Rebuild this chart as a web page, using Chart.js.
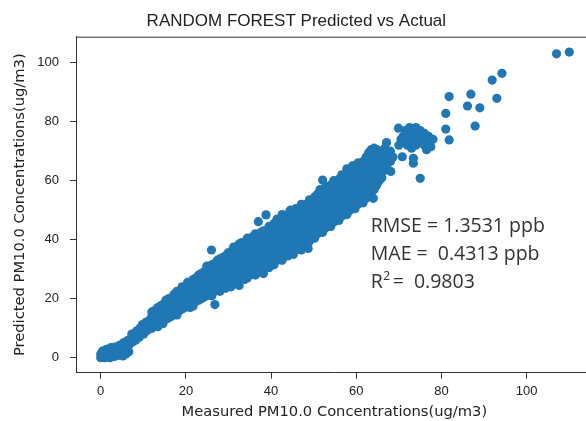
<!DOCTYPE html>
<html>
<head>
<meta charset="utf-8">
<script src="https://cdn.jsdelivr.net/npm/chart.js@4.4.1/dist/chart.umd.min.js"></script>
<style>
html, body { margin: 0; padding: 0; background: #fff; overflow: hidden; }
</style>
</head>
<body>
<canvas id="chart" width="600" height="421"></canvas>
<script>
// 文字
const titleText = 'RANDOM FOREST Predicted vs Actual';
const xLabel = 'Measured PM10.0 Concentrations(ug/m3)';
const yLabel = 'Predicted PM10.0 Concentrations(ug/m3)';
const xTicks = [0, 20, 40, 60, 80, 100];
const yTicks = [0, 20, 40, 60, 80, 100];
const rmseText = 'RMSE = 1.3531 ppb';
const maeText = 'MAE =  0.4313 ppb';
const r2Value = '=  0.9803';

// 数据点 [measured, predicted]
const lowRange = [
  [0,0],[0,1.2],[0.4,2.2],[0.6,0.4],[1,0],[1.1,1.4],[1.3,2.8],[1.7,0.6],[2,1.8],[2.2,0],[2.4,3.4],
  [2.6,1],[2.9,2.4],[3.2,0.4],[3.3,3.6],[3.6,1.4],[3.9,2.6],[4.2,0.8],[4.4,4.2],[4.6,2],[4.9,3.2],
  [5.2,0.6],[5.3,5],[5.6,2.2],[5.9,1.2],[6.1,3.4],[6.3,5.8],[6.6,2],[6.8,4.6],[7.1,6.6],[7.3,8],
  [7.6,5.4],[7.9,7.4],[8.2,6],[8.4,9],[8.7,7.8],[9,6.8],[9.2,10],[9.5,8.6],[9.8,11.2],[10.1,8],
  [10.3,9.8],[10.6,12],[10.9,9.2],[11.2,11],[11.5,12.8],[11.8,10]
];
const midLowRange = [
  [12,10],[12,12],[12,14],[12,15.5],[12.7,11],[12.7,13.5],[12.7,16],
  [13.4,10.5],[13.4,12.5],[13.4,14.5],[13.4,17],[14,12],[14,14],[14,16],[14,17.5],
  [14.6,11.5],[14.6,13.5],[14.6,15.5],[14.6,18],[15.3,13],[15.3,15],[15.3,17],[15.3,19.5],
  [16,13.5],[16,15.5],[16,17.5],[16,20],[16.6,14],[16.6,16],[16.6,18],[16.6,19.5],
  [17.2,15],[17.2,17],[17.2,19],[17.2,21.5],[17.9,14.5],[17.9,16.5],[17.9,18.5],[17.9,20.5],[17.9,22.5],
  [18.5,16],[18.5,18],[18.5,20],[18.5,22],[19.1,16.5],[19.1,18.5],[19.1,20.5],[19.1,22.5],[19.1,24],
  [19.8,17],[19.8,19],[19.8,21],[19.8,23],[20.4,18],[20.4,20],[20.4,22],[20.4,24],[20.4,25.5],
  [21,17],[21,19],[21,21],[21,23],[21,25],[21.7,17.5],[21.7,20],[21.7,22],[21.7,24],[21.7,26.5],
  [22.3,19],[22.3,21],[22.3,23],[22.3,25],[22.3,27],[23,19.5],[23,21.5],[23,23.5],[23,25.5],[23,28],
  [23.6,20],[23.6,22],[23.6,24],[23.6,26],[23.6,28.5],[24.2,20.5],[24.2,22.5],[24.2,24.5],[24.2,26.5],[24.2,29],
  [24.9,21],[24.9,23],[24.9,25],[24.9,27],[24.9,29.5],[24.9,31],[25.5,22],[25.5,24],[25.5,26],[25.5,28],[25.5,30],
  [26.1,21],[26.1,23],[26.1,25],[26.1,27],[26.1,29],[26.1,31.5],
  [26.8,18],[26.8,22.5],[26.8,24.5],[26.8,26.5],[26.8,28.5],[26.8,30.5],[26.8,32],
  [27.4,23],[27.4,25],[27.4,27],[27.4,29],[27.4,31],[27.4,33],
  [28,22.5],[28,24.5],[28,26.5],[28,28.5],[28,30.5],[28,33.5],
  [28.7,24],[28.7,26],[28.7,28],[28.7,30],[28.7,32],[28.7,34],
  [29.3,23.5],[29.3,25.5],[29.3,27.5],[29.3,29.5],[29.3,31.5],[29.3,34.5],
  [29.9,25],[29.9,27],[29.9,29],[29.9,31],[29.9,33],[29.9,35.5]
];
const midRange = [
  [30.6,24],[30.6,26],[30.6,28],[30.6,30],[30.6,32],[30.6,34],[30.6,36],
  [31.2,25.5],[31.2,27.5],[31.2,29.5],[31.2,31.5],[31.2,33.5],[31.2,35.5],[31.2,37.5],
  [31.9,26],[31.9,28],[31.9,30],[31.9,32],[31.9,34],[31.9,36],
  [32.5,24.5],[32.5,27],[32.5,29],[32.5,31],[32.5,33],[32.5,35],[32.5,37],[32.5,38.5],
  [33.1,27],[33.1,29],[33.1,31],[33.1,33],[33.1,35],[33.1,37],[33.1,39],
  [33.8,26.5],[33.8,28.5],[33.8,30.5],[33.8,32.5],[33.8,34.5],[33.8,36.5],[33.8,38.5],
  [34.4,27],[34.4,29],[34.4,31],[34.4,33],[34.4,35],[34.4,37],[34.4,39],[34.4,40.5],
  [35,28],[35,30],[35,32],[35,34],[35,36],[35,38],[35,40],
  [35.7,29.5],[35.7,31.5],[35.7,33.5],[35.7,35.5],[35.7,37.5],[35.7,39.5],[35.7,41],
  [36.3,28],[36.3,30],[36.3,32],[36.3,34],[36.3,36],[36.3,38],[36.3,40],[36.3,42],
  [37,29],[37,31],[37,33],[37,35],[37,37],[37,39],[37,41],[37,46.1],
  [37.6,30.5],[37.6,32.5],[37.6,34.5],[37.6,36.5],[37.6,38.5],[37.6,40.5],[37.6,42.5],
  [38.2,28.5],[38.2,31],[38.2,33],[38.2,35],[38.2,37],[38.2,39],[38.2,41],[38.2,43],
  [38.8,31],[38.8,33],[38.8,35],[38.8,37],[38.8,39],[38.8,41],[38.8,43],[38.8,48.4],
  [39.5,30.5],[39.5,32.5],[39.5,34.5],[39.5,36.5],[39.5,38.5],[39.5,40.5],[39.5,42.5],[39.5,44.5],
  [40.1,32],[40.1,34],[40.1,36],[40.1,38],[40.1,40],[40.1,42],[40.1,44],
  [40.7,31.5],[40.7,33.5],[40.7,35.5],[40.7,37.5],[40.7,39.5],[40.7,41.5],[40.7,43.5],[40.7,45.5],
  [41.4,33],[41.4,35],[41.4,37],[41.4,39],[41.4,41],[41.4,43],[41.4,45],[41.4,47],
  [42,34],[42,36],[42,38],[42,40],[42,42],[42,44],[42,46],
  [42.6,33],[42.6,35],[42.6,37],[42.6,39],[42.6,41],[42.6,43],[42.6,45],[42.6,47],[42.6,48.5],
  [43.3,35],[43.3,37],[43.3,39],[43.3,41],[43.3,43],[43.3,45],[43.3,47],
  [43.9,34.5],[43.9,36.5],[43.9,38.5],[43.9,40.5],[43.9,42.5],[43.9,44.5],[43.9,46.5],[43.9,48.5],
  [44.5,36],[44.5,38],[44.5,40],[44.5,42],[44.5,44],[44.5,46],[44.5,48],[44.5,50],
  [45.2,35],[45.2,37],[45.2,39],[45.2,41],[45.2,43],[45.2,45],[45.2,47],[45.2,49.5],
  [45.8,36.5],[45.8,38.5],[45.8,40.5],[45.8,42.5],[45.8,44.5],[45.8,46.5],[45.8,48.5],[45.8,50.5],
  [46.4,37],[46.4,39],[46.4,41],[46.4,43],[46.4,45],[46.4,47],[46.4,49],
  [47.1,36.5],[47.1,38.5],[47.1,40.5],[47.1,42.5],[47.1,44.5],[47.1,46.5],[47.1,48.5],[47.1,50.5],[47.1,52],
  [47.7,38],[47.7,40],[47.7,42],[47.7,44],[47.7,46],[47.7,48],[47.7,50],
  [48.3,38],[48.3,40],[48.3,42],[48.3,44],[48.3,46],[48.3,48],[48.3,50],[48.3,52],[48.7,37],
  [49,39.5],[49,41.5],[49,43.5],[49,45.5],[49,47.5],[49,49.5],[49,51.5],[49,53.5],
  [49.6,41],[49.6,43],[49.6,45],[49.6,47],[49.6,49],[49.6,51],[49.6,53],
  [50.2,40.5],[50.2,42.5],[50.2,44.5],[50.2,46.5],[50.2,48.5],[50.2,50.5],[50.2,52.5],[50.2,54.5]
];
const highRange = [
  [50.9,42],[50.9,44],[50.9,46],[50.9,48],[50.9,50],[50.9,52],[50.9,54],[50.9,55.5],
  [51.5,43],[51.5,45],[51.5,47],[51.5,49],[51.5,51],[51.5,53],[51.5,55],[51.5,57],
  [52.1,42.5],[52.1,44.5],[52.1,46.5],[52.1,48.5],[52.1,50.5],[52.1,52.5],[52.1,54.5],[52.1,56.5],[52.1,60.2],
  [52.8,44],[52.8,46],[52.8,48],[52.8,50],[52.8,52],[52.8,54],[52.8,56],[52.8,58],
  [53.4,45],[53.4,47],[53.4,49],[53.4,51],[53.4,53],[53.4,55],[53.4,57],
  [54,44.5],[54,46.5],[54,48.5],[54,50.5],[54,52.5],[54,54.5],[54,56.5],[54,58.5],
  [54.7,46],[54.7,48],[54.7,50],[54.7,52],[54.7,54],[54.7,56],[54.7,58],[54.7,60],
  [55.3,47],[55.3,49],[55.3,51],[55.3,53],[55.3,55],[55.3,57],[55.3,59],
  [55.9,46.5],[55.9,48.5],[55.9,50.5],[55.9,52.5],[55.9,54.5],[55.9,56.5],[55.9,58.5],[55.9,60.5],
  [56.6,48],[56.6,50],[56.6,52],[56.6,54],[56.6,56],[56.6,58],[56.6,60],[56.6,62],
  [57.2,49],[57.2,51],[57.2,53],[57.2,55],[57.2,57],[57.2,59],[57.2,61],
  [57.8,48.5],[57.8,50.5],[57.8,52.5],[57.8,54.5],[57.8,56.5],[57.8,58.5],[57.8,60.5],[57.8,62.5],[57.8,64],
  [58.5,50],[58.5,52],[58.5,54],[58.5,56],[58.5,58],[58.5,60],[58.5,62],
  [59.1,51],[59.1,53],[59.1,55],[59.1,57],[59.1,59],[59.1,61],[59.1,63],[59.1,65],
  [59.7,50.5],[59.7,52.5],[59.7,54.5],[59.7,56.5],[59.7,58.5],[59.7,60.5],[59.7,62.5],[59.7,64.5],
  [60.4,52],[60.4,54],[60.4,56],[60.4,58],[60.4,60],[60.4,62],[60.4,64],[60.4,66],
  [61,53],[61,55],[61,57],[61,59],[61,61],[61,63],[61,65],
  [61.6,52.5],[61.6,54.5],[61.6,56.5],[61.6,58.5],[61.6,60.5],[61.6,62.5],[61.6,64.5],[61.6,66.5],
  [62.3,54],[62.3,56],[62.3,58],[62.3,60],[62.3,62],[62.3,64],[62.3,66],[62.3,68],
  [62.9,55],[62.9,57],[62.9,59],[62.9,61],[62.9,63],[62.9,65],[62.9,67],[62.9,69.5],
  [63.5,56],[63.5,58],[63.5,60],[63.5,62],[63.5,64],[63.5,66],[63.5,68],[63.5,70.5],[64,54],
  [64.2,57],[64.2,59],[64.2,61],[64.2,63],[64.2,65],[64.2,67],[64.2,69],[64.2,71],
  [64.8,58.5],[64.8,60.5],[64.8,62.5],[64.8,64.5],[64.8,66.5],[64.8,68.5],[64.8,70.5],
  [65.4,60],[65.4,62],[65.4,64],[65.4,66],[65.4,68],[65.4,70],
  [66,61],[66,63],[66,65],[66,67],[66,69],
  [66.7,63.5],[66.7,66],[66.7,68.5],[66.7,71],
  [67.3,64],[67.3,67],[67.3,69.5],[68,66.5],[68,70],[68.6,68]
];
const cluster = [
  [70,72],[70.5,74],[71,73],[71,75],[71.5,77],[72,72],[72,74],[72,76],[72.5,78],
  [73,71],[73,73],[73,75],[73,77],[74,72],[74,74],[74,76],[74,78],[75,73],[75,75],[75,77],
  [76,72],[76,74],[76,76],[77,73],[77,75],[78,74],[76.5,70.5],[77.5,71.5],
  [69.9,77.8],[67.1,72.9],[70.8,68.1],[73.4,67.6],[73.4,65.9],[68.1,63.1],[75,60.8]
];
const outliers = [
  [26,36.5],
  [81,82.8],[81,77.5],[81.8,73.8],[81.8,88.5],[86.9,89.3],[86.1,85.3],[89,84.7],[87.9,78.5],
  [91.9,94.1],[94.2,96.4],[93,87.9],[107,103],[110,103.6]
];

const allPoints = [].concat(lowRange, midLowRange, midRange, highRange, cluster, outliers)
  .map(p => ({ x: p[0], y: p[1] }));

const tickFont = '"Liberation Sans", Arial, sans-serif';
const labelFont = '"DejaVu Sans", sans-serif';
const textColor = '#222';
const axisColor = '#333';

// 画上边框和右边框
const framePlugin = {
  id: 'frame',
  afterDraw(chart) {
    const a = chart.chartArea;
    const c = chart.ctx;
    c.save();
    c.strokeStyle = axisColor;
    c.lineWidth = 1;
    c.beginPath();
    c.moveTo(a.left, a.top + 0.5);
    c.lineTo(a.right, a.top + 0.5);
    c.moveTo(a.right - 0.5, a.top);
    c.lineTo(a.right - 0.5, a.bottom);
    c.stroke();
    c.restore();
  }
};

// 统计指标文字
const statsPlugin = {
  id: 'stats',
  afterDatasetsDraw(chart) {
    const c = chart.ctx;
    const xs = chart.scales.x;
    const ys = chart.scales.y;
    const left = xs.getPixelForValue(63.4);
    c.save();
    c.fillStyle = '#333';
    c.textBaseline = 'alphabetic';
    c.textAlign = 'left';
    c.font = '19.5px "Open Sans", sans-serif';
    c.fillText(rmseText, left, ys.getPixelForValue(42.7));
    c.fillText(maeText, left, ys.getPixelForValue(33.1));
    const base = ys.getPixelForValue(23.5);
    c.fillText('R', left, base);
    const rw = c.measureText('R').width;
    c.font = '12px "Open Sans", sans-serif';
    c.fillText('2', left + rw + 0.5, base - 8.5);
    const sw = c.measureText('2').width;
    c.font = '19.5px "Open Sans", sans-serif';
    c.fillText(r2Value, left + rw + sw + 3, base);
    c.restore();
  }
};

const ctx = document.getElementById('chart').getContext('2d');
const chart = new Chart(ctx, {
  type: 'scatter',
  data: {
    datasets: [{
      data: allPoints,
      backgroundColor: '#1f77b4',
      borderColor: '#1f77b4',
      borderWidth: 0,
      pointRadius: 4.6,
      pointHoverRadius: 4.6
    }]
  },
  options: {
    responsive: false,
    animation: false,
    events: [],
    layout: { padding: { left: 0, right: 7.3, top: 0, bottom: 0 } },
    plugins: {
      legend: { display: false },
      tooltip: { enabled: false },
      title: {
        display: true,
        text: titleText,
        color: textColor,
        font: { family: tickFont, size: 17, weight: 'normal' },
        padding: { top: 11.3, bottom: 5 }
      }
    },
    scales: {
      x: {
        type: 'linear',
        min: -5.8,
        max: 115.5,
        afterBuildTicks: s => { s.ticks = xTicks.map(v => ({ value: v })); },
        afterFit: s => { s.height = 48.3; },
        ticks: { color: textColor, font: { family: tickFont, size: 13 }, padding: 5, maxRotation: 0 },
        grid: { drawOnChartArea: false, tickLength: 6, color: axisColor },
        border: { color: axisColor },
        title: {
          display: true,
          text: xLabel,
          color: textColor,
          font: { family: labelFont, size: 14.7 },
          padding: { top: 0, bottom: 0 }
        }
      },
      y: {
        type: 'linear',
        min: -5.1,
        max: 108.8,
        afterBuildTicks: s => { s.ticks = yTicks.map(v => ({ value: v })); },
        afterFit: s => { s.width = 76; },
        ticks: { color: textColor, font: { family: tickFont, size: 13 }, padding: 11 },
        grid: { drawOnChartArea: false, tickLength: 6, color: axisColor },
        border: { color: axisColor },
        title: {
          display: true,
          text: yLabel,
          color: textColor,
          font: { family: labelFont, size: 14.7 },
          padding: { top: 11.2, bottom: 0 }
        }
      }
    }
  },
  plugins: [framePlugin, statsPlugin]
});
</script>
</body>
</html>
